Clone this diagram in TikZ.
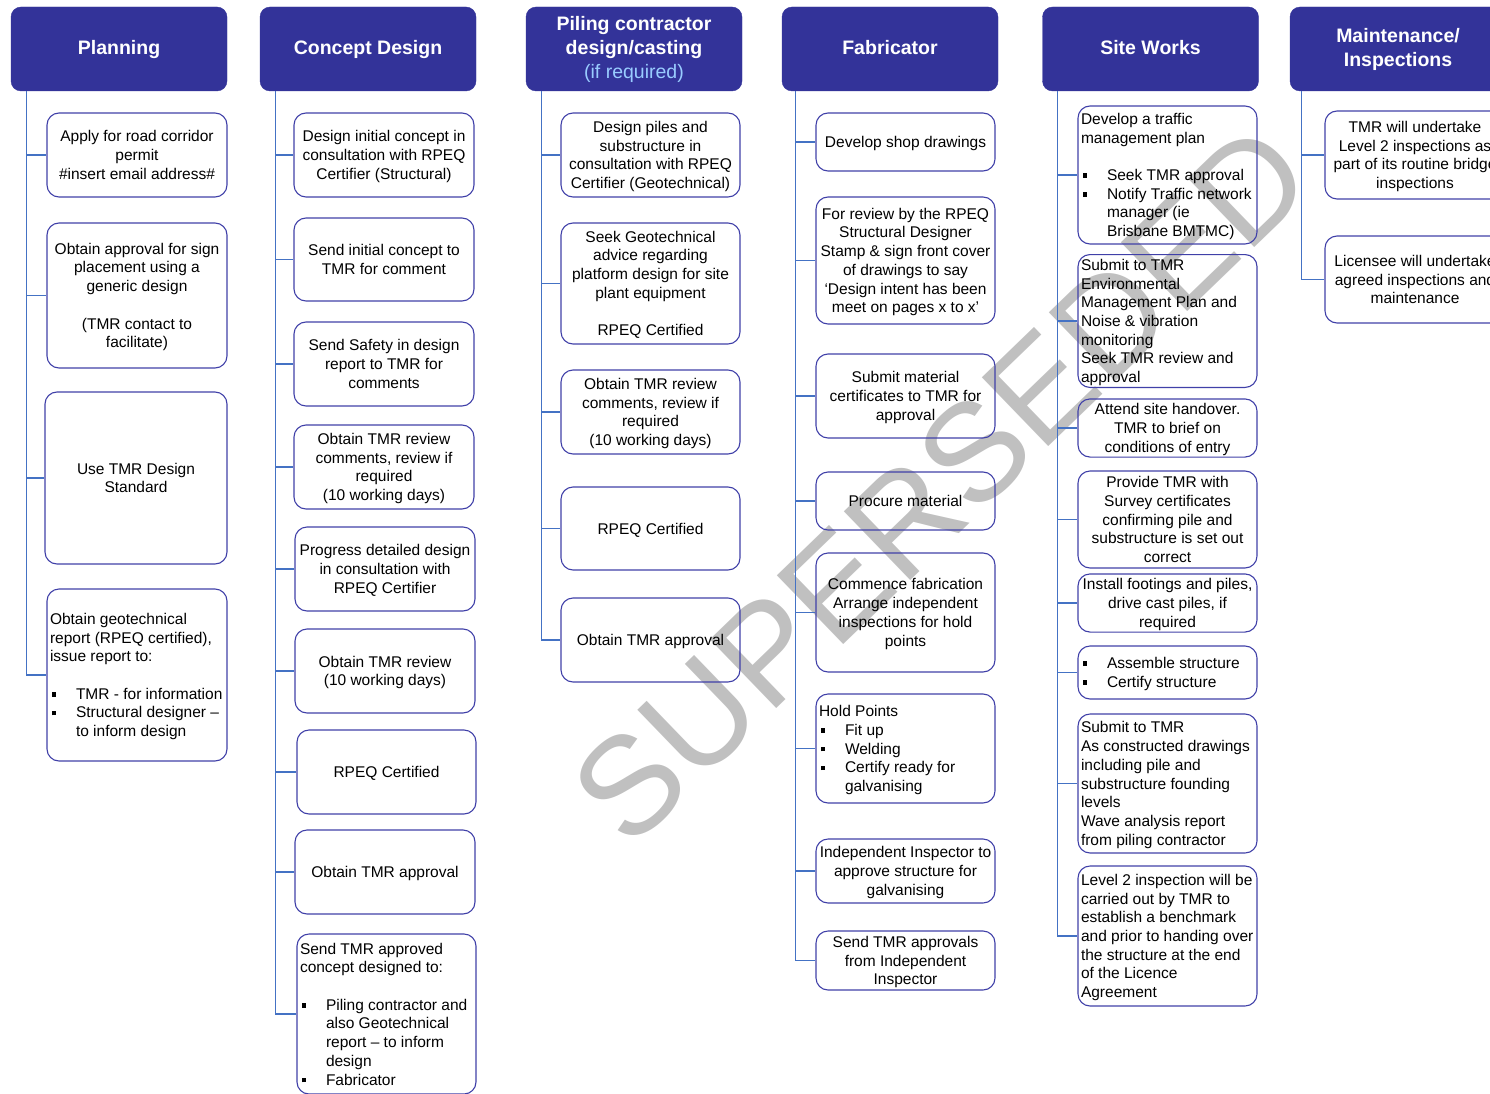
\documentclass[tikz,border=0pt]{standalone}
\usepackage{fontspec}
\setmainfont{Liberation Sans}
\definecolor{hdrblue}{RGB}{51,51,153}
\definecolor{boxblue}{RGB}{64,64,168}
\definecolor{connblue}{RGB}{68,114,196}
\definecolor{wmgray}{RGB}{192,192,192}
\definecolor{ifblue}{RGB}{153,204,255}
\newcommand\mybul{\makebox[26pt][l]{\hspace{1.5pt}\raisebox{2.6pt}{\rule{4.6pt}{4.6pt}}}}
\newcommand\myind{\hspace*{26pt}}
% centred lines, left lines, header lines (no automatic line breaking)
\newcommand\ctx[1]{\raisebox{-1.8pt}[\height][\depth]{\begin{tabular}{@{}c@{}}#1\end{tabular}}}
\newcommand\ltx[2]{\makebox[#1][l]{\raisebox{-1.8pt}[\height][\depth]{\begin{tabular}{@{}l@{}}#2\end{tabular}}}}
\newcommand\htx[1]{\raisebox{-1.2pt}[\height][\depth]{\begin{tabular}{@{}c@{}}#1\end{tabular}}}
\begin{document}
\begin{tikzpicture}[x=1pt,y=-1pt,
  hdr/.style={fill=hdrblue, draw=hdrblue, rounded corners=10pt, minimum width=216pt,
    minimum height=84pt, text=white, font=\fontsize{19.5}{24}\selectfont\bfseries,
    inner sep=0pt},
  bx/.style={draw=boxblue, line width=1.1pt, rounded corners=12pt,
    inner xsep=3pt, inner ysep=1pt, font=\fontsize{15.5}{18.7}\selectfont},
  conn/.style={draw=connblue, line width=1.3pt},
  wm/.style={text=wmgray, font=\fontsize{139}{139}\selectfont, rotate=44, inner sep=0pt}]
\useasboundingbox (0,0) rectangle (1490,1094);
\clip (0,0) rectangle (1490,1094);

% watermark (behind everything)
\node[wm] (wm) at (941,484) {SUPERSEDED};

% headers
\node[hdr] (h1) at (119,49) {\htx{Planning}};
\node[hdr] (h2) at (368,49) {\htx{Concept Design}};
\node[hdr] (h3) at (634,49) {\htx{Piling contractor\\design/casting\\{\mdseries\color{ifblue}(if required)}}};
\node[hdr] (h4) at (890,49) {\htx{Fabricator}};
\node[hdr] (h5) at (1150.5,49) {\htx{Site Works}};
\node[hdr] (h6) at (1398,49) {\htx{Maintenance/\\Inspections}};

% Planning
\node[bx, minimum width=180pt, minimum height=84pt] (p1) at (137,155) {\ctx{Apply for road corridor\\permit\\\#insert email address\#}};
\node[bx, minimum width=180pt, minimum height=145pt] (p2) at (137,295.5) {\ctx{Obtain approval for sign\\placement using a\\generic design\\[18.7pt](TMR contact to\\facilitate)}};
\node[bx, minimum width=182pt, minimum height=172pt] (p3) at (136,478) {\ctx{Use TMR Design\\Standard}};
\node[bx, minimum width=180pt, minimum height=172pt] (p4) at (137,675) {\ltx{174pt}{Obtain geotechnical\\report (RPEQ certified),\\issue report to:\\[18.7pt]\mybul TMR - for information\\\mybul Structural designer –\\\myind to inform design}};

% Concept Design
\node[bx, minimum width=180pt, minimum height=84pt] (c1) at (384,155) {\ctx{Design initial concept in\\consultation with RPEQ\\Certifier (Structural)}};
\node[bx, minimum width=180pt, minimum height=83pt] (c2) at (384,259.5) {\ctx{Send initial concept to\\TMR for comment}};
\node[bx, minimum width=180pt, minimum height=84pt] (c3) at (384,364) {\ctx{Send Safety in design\\report to TMR for\\comments}};
\node[bx, minimum width=180pt, minimum height=84pt] (c4) at (384,467) {\ctx{Obtain TMR review\\comments, review if\\required\\(10 working days)}};
\node[bx, minimum width=180pt, minimum height=84pt] (c5) at (385,569) {\ctx{Progress detailed design\\in consultation with\\RPEQ Certifier}};
\node[bx, minimum width=180pt, minimum height=84pt] (c6) at (385,671) {\ctx{Obtain TMR review\\(10 working days)}};
\node[bx, minimum width=179pt, minimum height=84pt] (c7) at (386.5,772) {\ctx{RPEQ Certified}};
\node[bx, minimum width=180pt, minimum height=84pt] (c8) at (385,872) {\ctx{Obtain TMR approval}};
\node[bx, minimum width=179pt, minimum height=160pt] (c9) at (386.5,1014) {\ltx{173pt}{Send TMR approved\\concept designed to:\\[18.7pt]\mybul Piling contractor and\\\myind also Geotechnical\\\myind report – to inform\\\myind design\\\mybul Fabricator}};

% Piling contractor
\node[bx, minimum width=179pt, minimum height=84pt] (g1) at (650.5,155) {\ctx{Design piles and\\substructure in\\consultation with RPEQ\\Certifier (Geotechnical)}};
\node[bx, minimum width=179pt, minimum height=121pt] (g2) at (650.5,283.5) {\ctx{Seek Geotechnical\\advice regarding\\platform design for site\\plant equipment\\[18.7pt]RPEQ Certified}};
\node[bx, minimum width=179pt, minimum height=84pt] (g3) at (650.5,412) {\ctx{Obtain TMR review\\comments, review if\\required\\(10 working days)}};
\node[bx, minimum width=179pt, minimum height=83pt] (g4) at (650.5,528.5) {\ctx{RPEQ Certified}};
\node[bx, minimum width=179pt, minimum height=84pt] (g5) at (650.5,640) {\ctx{Obtain TMR approval}};

% Fabricator
\node[bx, minimum width=179pt, minimum height=58pt] (f1) at (905.5,142) {\ctx{Develop shop drawings}};
\node[bx, minimum width=179pt, minimum height=127pt] (f2) at (905.5,260.5) {\ctx{For review by the RPEQ\\Structural Designer\\Stamp \& sign front cover\\of drawings to say\\‘Design intent has been\\meet on pages x to x’}};
\node[bx, minimum width=179pt, minimum height=84pt] (f3) at (905.5,396) {\ctx{Submit material\\certificates to TMR for\\approval}};
\node[bx, minimum width=179pt, minimum height=58pt] (f4) at (905.5,501) {\ctx{Procure material}};
\node[bx, minimum width=179pt, minimum height=119pt] (f5) at (905.5,612.5) {\ctx{Commence fabrication\\Arrange independent\\inspections for hold\\points}};
\node[bx, minimum width=179pt, minimum height=109pt] (f6) at (905.5,748.5) {\ltx{173pt}{Hold Points\\\mybul Fit up\\\mybul Welding\\\mybul Certify ready for\\\myind galvanising}};
\node[bx, minimum width=179pt, minimum height=64pt] (f7) at (905.5,871) {\ctx{Independent Inspector to\\approve structure for\\galvanising}};
\node[bx, minimum width=179pt, minimum height=59pt] (f8) at (905.5,960.5) {\ctx{Send TMR approvals\\from Independent\\Inspector}};

% Site Works
\node[bx, minimum width=179pt, minimum height=138pt] (s1) at (1167.5,175) {\ltx{173pt}{Develop a traffic\\management plan\\[18.7pt]\mybul Seek TMR approval\\\mybul Notify Traffic network\\\myind manager (ie\\\myind Brisbane BMTMC)}};
\node[bx, minimum width=179pt, minimum height=132pt] (s2) at (1167.5,321) {\ltx{173pt}{Submit to TMR\\Environmental\\Management Plan and\\Noise \& vibration\\monitoring\\Seek TMR review and\\approval}};
\node[bx, minimum width=179pt, minimum height=58pt] (s3) at (1167.5,428) {\ctx{Attend site handover.\\TMR to brief on\\conditions of entry}};
\node[bx, minimum width=179pt, minimum height=97pt] (s4) at (1167.5,519.5) {\ctx{Provide TMR with\\Survey certificates\\confirming pile and\\substructure is set out\\correct}};
\node[bx, minimum width=179pt, minimum height=56pt] (s5) at (1167.5,603) {\ctx{Install footings and piles,\\drive cast piles, if\\required}};
\node[bx, minimum width=179pt, minimum height=53pt] (s6) at (1167.5,672.5) {\ltx{173pt}{\mybul Assemble structure\\\mybul Certify structure}};
\node[bx, minimum width=179pt, minimum height=139pt] (s7) at (1167.5,783.5) {\ltx{173pt}{Submit to TMR\\As constructed drawings\\including pile and\\substructure founding\\levels\\Wave analysis report\\from piling contractor}};
\node[bx, minimum width=179pt, minimum height=140pt] (s8) at (1167.5,936) {\ltx{173pt}{Level 2 inspection will be\\carried out by TMR to\\establish a benchmark\\and prior to handing over\\the structure at the end\\of the Licence\\Agreement}};

% Maintenance
\node[bx, minimum width=180pt, minimum height=88pt] (m1) at (1415,155) {\ctx{TMR will undertake\\Level 2 inspections as\\part of its routine bridge\\inspections}};
\node[bx, minimum width=180pt, minimum height=87pt] (m2) at (1415,279.5) {\ctx{Licensee will undertake\\agreed inspections and\\maintenance}};

% connectors
\foreach \b in {p1,p2,p3,p4} \draw[conn] (h1.south west) ++(16,0) |- (\b.west);
\foreach \b in {c1,c2,c3,c4,c5,c6,c7,c8,c9} \draw[conn] (h2.south west) ++(16,0) |- (\b.west);
\foreach \b in {g1,g2,g3,g4,g5} \draw[conn] (h3.south west) ++(15.5,0) |- (\b.west);
\foreach \b in {f1,f2,f3,f4,f5,f6,f7,f8} \draw[conn] (h4.south west) ++(14,0) |- (\b.west);
\foreach \b in {s1,s2,s3,s4,s5,s6,s7,s8} \draw[conn] (h5.south west) ++(15.5,0) |- (\b.west);
\foreach \b in {m1,m2} \draw[conn] (h6.south west) ++(12,0) |- (\b.west);
\end{tikzpicture}
\end{document}
